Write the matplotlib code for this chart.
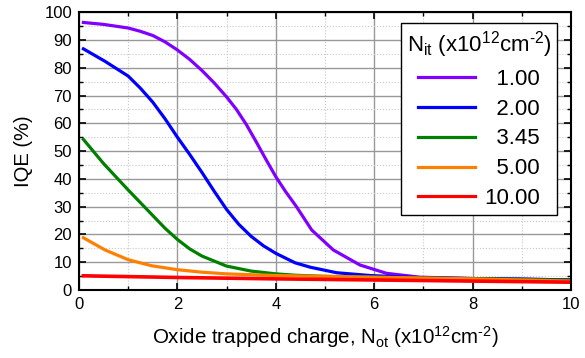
import matplotlib
matplotlib.use("Agg")
import matplotlib.pyplot as plt
from matplotlib.ticker import MultipleLocator

plt.rcParams['font.family'] = ['Liberation Sans', 'DejaVu Sans']
plt.rcParams['mathtext.default'] = 'regular'

labels = ["1.00", "2.00", "3.45", "5.00", "10.00"]
colors = ["#8000FF", "#0000FF", "#008000", "#FF8000", "#FF0000"]

x_p = [0.09, 0.5, 1.0, 1.25, 1.5, 1.75, 2.0, 2.25, 2.5, 2.75, 3.0, 3.2, 3.4, 3.6, 3.8, 4.0, 4.2, 4.42, 4.73, 5.17, 5.71, 6.25, 6.93, 8.0, 9.0, 10.0]
y_p = [96.3, 95.6, 94.3, 93.1, 91.6, 89.3, 86.4, 83.0, 79.0, 74.5, 69.5, 65.0, 59.6, 53.4, 47.0, 40.8, 35.4, 30.0, 21.6, 14.4, 9.0, 6.0, 4.6, 4.1, 3.9, 3.6]

x_b = [0.09, 0.53, 1.0, 1.25, 1.5, 1.75, 2.0, 2.25, 2.5, 2.75, 3.0, 3.25, 3.5, 3.75, 4.0, 4.39, 4.7, 5.24, 5.92, 6.93, 8.0, 9.0, 10.0]
y_b = [86.8, 82.3, 77.0, 72.6, 67.6, 61.6, 55.0, 48.8, 42.3, 35.5, 29.0, 23.6, 19.3, 15.9, 13.2, 9.8, 8.2, 6.2, 5.2, 4.4, 4.1, 3.9, 3.6]

x_g = [0.09, 0.5, 1.0, 1.5, 1.75, 2.0, 2.25, 2.5, 3.0, 3.5, 4.0, 4.4, 5.0, 6.0, 7.0, 8.0, 9.0, 10.0]
y_g = [54.2, 45.5, 36.0, 26.8, 22.2, 18.2, 14.8, 12.2, 8.6, 6.8, 5.8, 5.3, 4.9, 4.6, 4.3, 4.1, 3.8, 3.5]

x_o = [0.09, 0.53, 1.0, 1.48, 2.0, 2.5, 3.0, 4.0, 5.0, 6.0, 7.0, 8.0, 9.0, 10.0]
y_o = [18.8, 14.4, 10.9, 8.7, 7.3, 6.4, 5.8, 5.2, 4.9, 4.6, 4.3, 4.0, 3.6, 3.2]

x_r = [0.09, 2.0, 4.0, 6.0, 8.0, 10.0]
y_r = [5.1, 4.5, 4.0, 3.6, 3.2, 2.8]

xs = [x_p, x_b, x_g, x_o, x_r]
ys = [y_p, y_b, y_g, y_o, y_r]
widths = [2.3, 2.3, 2.3, 2.3, 2.6]

fig = plt.figure(figsize=(5.85, 3.58), dpi=100)
ax = fig.add_axes([0.135, 0.190, 0.841, 0.776])

for x, y, c, lab, w in zip(xs, ys, colors, labels, widths):
    ax.plot(x, y, color=c, lw=w, label=lab, solid_joinstyle='round')

ax.set_xlim(0, 10)
ax.set_ylim(0, 100)
ax.xaxis.set_major_locator(MultipleLocator(2))
ax.xaxis.set_minor_locator(MultipleLocator(1))
ax.yaxis.set_major_locator(MultipleLocator(10))
ax.yaxis.set_minor_locator(MultipleLocator(5))
ax.grid(which='major', color='#999999', lw=1.0, ls='-')
ax.grid(which='minor', color='#c8c8c8', lw=0.8, ls=':')
ax.set_axisbelow(True)
ax.tick_params(which='both', direction='in', top=True, right=True, labelsize=12, colors='black')
ax.tick_params(which='major', length=5, width=1.2)
ax.tick_params(which='minor', length=3, width=1.0)
ax.tick_params(axis='y', pad=5)
ax.tick_params(axis='x', pad=5)
for s in ax.spines.values():
    s.set_linewidth(1.5)
    s.set_color('black')

HY = '\u2010'
ax.set_xlabel('Oxide trapped charge, N$_{ot}$ (x10$^{12}$cm$^{' + HY + '2}$)', fontsize=14.8, labelpad=9)
ax.set_ylabel('IQE (%)', fontsize=14.5, labelpad=8)

pad_labels = ['\u2007' * (max(len(s) for s in labels) - len(s)) + s for s in labels]
handles = ax.get_lines()
leg = ax.legend(handles, pad_labels, title='N$_{it}$ (x10$^{12}$cm$^{' + HY + '2}$)', fontsize=16, title_fontsize=16,
                loc='upper right', bbox_to_anchor=(0.9715, 0.960), borderaxespad=0,
                frameon=True, fancybox=False, edgecolor='black', framealpha=1,
                handlelength=2.57, handletextpad=0.4, labelspacing=0.4,
                borderpad=0.25, alignment='center')
leg.get_frame().set_linewidth(1.0)
for l in leg.get_lines():
    l.set_linewidth(2.3)

fig.savefig('out.png', dpi=100)
